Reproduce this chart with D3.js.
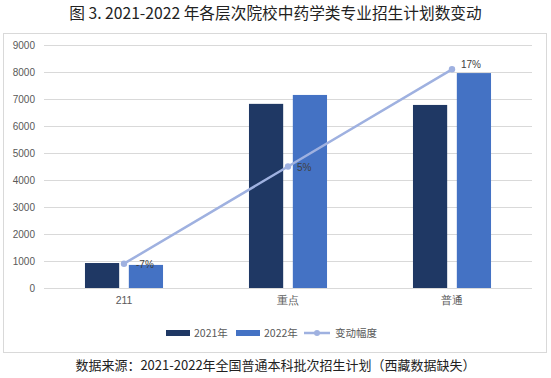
<!DOCTYPE html>
<html>
<head>
<meta charset="utf-8">
<script src="https://cdn.jsdelivr.net/npm/d3@7"></script>
<style>
  body { margin: 0; background: #fff; }
  svg { display: block; font-family: "Noto Sans CJK SC", "Noto Sans", sans-serif; }
</style>
</head>
<body>
<div id="chart"></div>
<script>
// data
var categories = ['211', '重点', '普通'];
var plan2021 = [925, 6820, 6780];
var plan2022 = [855, 7150, 7960];
var change = [-7, 5, 17];           // 变动幅度, %
var yTicks = [0, 1000, 2000, 3000, 4000, 5000, 6000, 7000, 8000, 9000];
var seriesNames = ['2021年', '2022年', '变动幅度'];
var colors = ['#1f3864', '#4472c4', '#9fb1e0'];

var W = 551, H = 378;
var svg = d3.select('#chart').append('svg').attr('width', W).attr('height', H);

// title
svg.append('text')
    .attr('x', W / 2).attr('y', 19)
    .attr('text-anchor', 'middle')
    .style('font-size', '15.7px').style('fill', '#222')
    .text('图 3. 2021-2022 年各层次院校中药学类专业招生计划数变动');

// chart frame
svg.append('rect')
    .attr('x', 3.5).attr('y', 33.5).attr('width', 543).attr('height', 319)
    .style('fill', 'none').style('stroke', '#d9d9d9');

var plot = { left: 42, right: 534, top: 45, bottom: 288 };

var x = d3.scaleBand().domain(categories).range([plot.left, plot.right]);
var y = d3.scaleLinear().domain([0, 9000]).range([plot.bottom, plot.top]);
var y2 = d3.scaleLinear().domain([-10, 20]).range([plot.bottom, plot.top]); // hidden secondary axis

// gridlines + y labels
var yAxis = d3.axisLeft(y).tickValues(yTicks).tickFormat(d3.format('d'))
    .tickSize(-(plot.right - plot.left - 4)).tickPadding(9);
var gy = svg.append('g').attr('transform', 'translate(' + (plot.left + 2) + ',0)').call(yAxis);
gy.select('.domain').remove();
gy.selectAll('line').style('stroke', '#d9d9d9');
gy.selectAll('text').style('fill', '#595959').style('font-size', '10px')
    .style('font-family', '"Liberation Sans", Arial, sans-serif');

// x labels
var xAxis = d3.axisBottom(x).tickSize(0).tickPadding(9);
var gx = svg.append('g').attr('transform', 'translate(0,' + plot.bottom + ')').call(xAxis);
gx.select('.domain').remove();
gx.selectAll('text').style('fill', '#595959').style('font-size', '10.5px');

// bars
var sub = d3.scaleBand().domain([0, 1]).range([0, x.bandwidth()]).paddingInner(0.22).paddingOuter(0.98);
[plan2021, plan2022].forEach(function (vals, s) {
    svg.append('g').selectAll('rect')
        .data(vals)
        .enter().append('rect')
        .attr('x', function (d, i) { return x(categories[i]) + sub(s); })
        .attr('width', sub.bandwidth())
        .attr('y', function (d) { return y(d); })
        .attr('height', function (d) { return plot.bottom - y(d); })
        .style('fill', colors[s]);
});

// change line
var line = d3.line()
    .x(function (d, i) { return x(categories[i]) + x.bandwidth() / 2; })
    .y(function (d) { return y2(d); });
svg.append('path').datum(change)
    .attr('d', line)
    .style('fill', 'none').style('stroke', colors[2]).style('stroke-width', 2.5);
svg.append('g').selectAll('circle')
    .data(change)
    .enter().append('circle')
    .attr('cx', function (d, i) { return x(categories[i]) + x.bandwidth() / 2; })
    .attr('cy', function (d) { return y2(d); })
    .attr('r', 3.2)
    .style('fill', colors[2]);
svg.append('g').selectAll('text')
    .data(change)
    .enter().append('text')
    .attr('x', function (d, i) { return x(categories[i]) + x.bandwidth() / 2 + (i === 0 ? 12 : 9); })
    .attr('y', function (d, i) { return y2(d) + (i === 2 ? -1 : 4); })
    .style('font-size', '10px').style('fill', '#404040')
    .style('font-family', '"Liberation Sans", Arial, sans-serif')
    .text(function (d) { return d + '%'; });

// legend
var legend = svg.append('g').attr('transform', 'translate(166,333)');
var lx = [0, 70, 138];
seriesNames.forEach(function (name, s) {
    var g = legend.append('g').attr('transform', 'translate(' + lx[s] + ',0)');
    if (s < 2) {
        g.append('rect').attr('x', 0).attr('y', -3).attr('width', 24).attr('height', 6).style('fill', colors[s]);
    } else {
        g.append('line').attr('x1', 0).attr('x2', 26).attr('y1', 0).attr('y2', 0)
            .style('stroke', colors[2]).style('stroke-width', 2.5);
        g.append('circle').attr('cx', 13).attr('cy', 0).attr('r', 3).style('fill', colors[2]);
    }
    g.append('text').attr('x', s < 2 ? 28 : 31).attr('y', 4)
        .style('font-size', '10.5px').style('fill', '#595959')
        .text(name);
});

// source
svg.append('text')
    .attr('x', W / 2).attr('y', 370)
    .attr('text-anchor', 'middle')
    .style('font-size', '13px').style('fill', '#222')
    .text('数据来源：2021-2022年全国普通本科批次招生计划（西藏数据缺失）');
</script>
</body>
</html>
